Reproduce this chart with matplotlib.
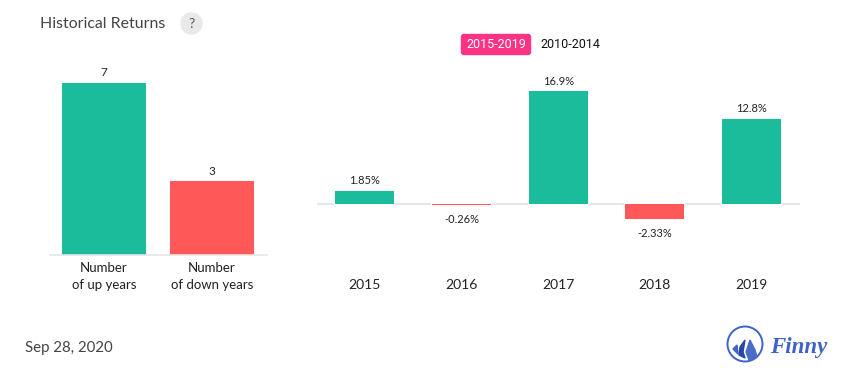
import matplotlib
matplotlib.use("Agg")
import matplotlib.pyplot as plt
from matplotlib.patches import Circle, FancyBboxPatch, Polygon

plt.rcParams['font.family'] = ['Lato', 'DejaVu Sans']

W, H = 855, 382
GREEN = '#1abc9c'
RED = '#ff5858'
PINK = '#fb3384'
BLUE = '#3f63c6'

count_labels = ['Number\nof up years', 'Number\nof down years']
count_values = [7, 3]
years = ['2015', '2016', '2017', '2018', '2019']
returns = [1.85, -0.26, 16.9, -2.33, 12.8]
return_labels = ['1.85%', '-0.26%', '16.9%', '-2.33%', '12.8%']


def px_axes(fig, left, top, right, bottom):
    return fig.add_axes([left / W, 1 - bottom / H, (right - left) / W, (bottom - top) / H])


fig = plt.figure(figsize=(W / 100, H / 100), dpi=100)

# left panel
ax1 = px_axes(fig, 50, 60, 267, 255)
ax1.bar(range(2), count_values, width=0.778, color=[GREEN, RED])
ax1.set_xlim(-0.5, 1.509)
ax1.set_ylim(0, 7.95)
for i, v in enumerate(count_values):
    ax1.annotate(str(v), (i, v), xytext=(0, 3.5), textcoords='offset points',
                 ha='center', va='bottom', fontsize=8.5, color='#222222')
ax1.set_xticks(range(2), count_labels, fontsize=9.5, color='#222222', linespacing=1.48)
ax1.tick_params(axis='x', length=0, pad=5)
ax1.set_yticks([])
for s in ['top', 'left', 'right']:
    ax1.spines[s].set_visible(False)
ax1.spines['bottom'].set_color('#e6e6e6')
ax1.spines['bottom'].set_linewidth(1.2)

# right panel
ax2 = px_axes(fig, 317, 60, 800, 240)
colors = [GREEN if r > 0 else RED for r in returns]
ax2.axhline(0, color='#e6e6e6', lw=1.5, zorder=1)
# white backing cuts the gap in the zero line around each bar
ax2.bar(range(5), returns, width=0.61, color='white', edgecolor='white', linewidth=1.6, zorder=2)
ax2.bar(range(5), returns, width=0.61, color=colors, zorder=3)
ax2.set_xlim(-0.495, 4.5)
ax2.set_ylim(-5.5, 21.65)
for i, (r, lab) in enumerate(zip(returns, return_labels)):
    off = 3.5 if r > 0 else -6.5
    ax2.annotate(lab, (i, r), xytext=(0, off), textcoords='offset points', ha='center',
                 va='bottom' if r > 0 else 'top', fontsize=8, color='#222222')
ax2.axis('off')
for i, y in enumerate(years):
    fig.text((364.5 + i * 96.75) / W, 1 - 285 / H, y, ha='center', va='center',
             fontsize=10, color='#222222')

# page furniture, in pixel coordinates
page = fig.add_axes([0, 0, 1, 1], zorder=-1)
page.set_xlim(0, W)
page.set_ylim(H, 0)
page.axis('off')

page.text(40, 24, 'Historical Returns', fontsize=11.4, color='#444444', va='center')
page.add_patch(Circle((191.5, 23.5), 10.5, color='#e9e9e9'))
page.text(191.5, 24, '?', fontsize=10, color='#555555', ha='center', va='center')

page.add_patch(FancyBboxPatch((461.5, 34.5), 69, 20, boxstyle='round,pad=0,rounding_size=2.5',
                              fc=PINK, ec=PINK, lw=1))
page.text(496, 45, '2015-2019', fontsize=9, color='white', ha='center', va='center', family=['Roboto'])
page.text(570, 45, '2010-2014', fontsize=9, color='#111111', ha='center', va='center', family=['Roboto'])

page.text(25, 348, 'Sep 28, 2020', fontsize=10.8, color='#444444', va='center')

# logo
page.add_patch(Circle((745, 344), 17.5, fc='white', ec=BLUE, lw=1.4))
page.add_patch(Polygon([(733, 349), (737, 345), (738, 354)], color=BLUE))
page.add_patch(Polygon([(739, 355), (740, 347), (745, 340), (743, 352), (745, 358)], color='#2748a8'))
page.add_patch(Polygon([(750, 340), (755, 350), (757, 357), (749, 360), (746, 352)], color='#4a6cc9'))
page.text(799, 347, 'Finny', fontsize=16.5, color=BLUE, ha='center', va='center',
          family=['Liberation Serif'], style='italic', weight='bold')

fig.savefig('out.png', dpi=100)
